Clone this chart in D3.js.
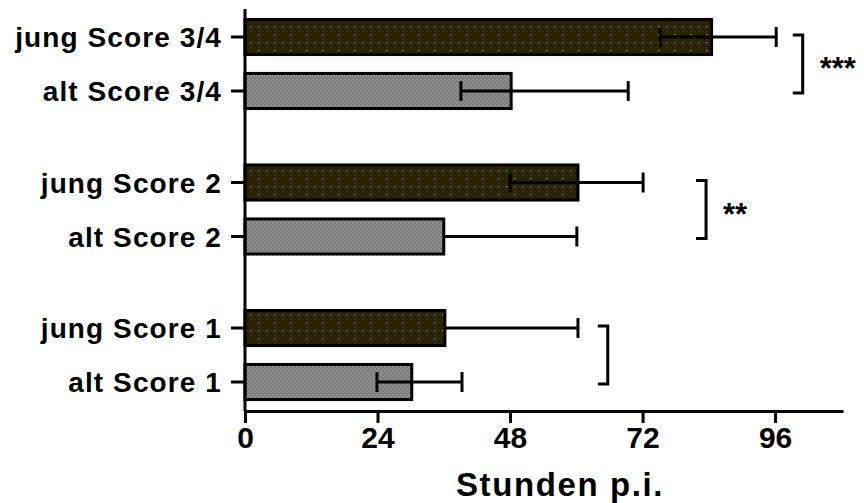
<!DOCTYPE html>
<html>
<head>
<meta charset="utf-8">
<script src="https://cdn.jsdelivr.net/npm/d3@7"></script>
<style>
  body { margin: 0; background: #fff; }
  svg text { font-family: "Liberation Sans", Arial, sans-serif; font-weight: bold; fill: #000; }
</style>
</head>
<body>
<svg width="864" height="503"></svg>
<script>
  // groups from top to bottom, two age classes each
  const groups = ["Score 3/4", "Score 2", "Score 1"];
  const ages = ["jung", "alt"];

  const jungMean = [84.5, 60.3, 36.2];
  const jungLow  = [75.2, 48.0, null];
  const jungHigh = [96.2, 72.1, 60.3];

  const altMean = [48.2, 36.0, 30.2];
  const altLow  = [39.1, null, 23.9];
  const altHigh = [69.4, 60.1, 39.3];

  const bracketAt = [101, 83.5, 65.7];
  const stars = ["***", "**", ""];
  const xTicks = [0, 24, 48, 72, 96];

  const rows = [];
  groups.forEach((g, i) => {
    rows.push({ group: g, age: "jung", mean: jungMean[i], low: jungLow[i], high: jungHigh[i] });
    rows.push({ group: g, age: "alt", mean: altMean[i], low: altLow[i], high: altHigh[i] });
  });

  const svg = d3.select("svg");

  const defs = svg.append("defs");
  const pj = defs.append("pattern").attr("id", "dots")
    .attr("patternUnits", "userSpaceOnUse").attr("width", 16).attr("height", 16);
  pj.append("rect").attr("width", 16).attr("height", 16).attr("fill", "#2a2500");
  [[2, 2], [2, 10], [10, 10]].forEach(p => {
    pj.append("rect").attr("x", p[0]).attr("y", p[1]).attr("width", 1.5).attr("height", 1.5).attr("fill", "#77735e");
  });

  const pa = defs.append("pattern").attr("id", "grey")
    .attr("patternUnits", "userSpaceOnUse").attr("width", 4).attr("height", 4);
  pa.append("rect").attr("width", 4).attr("height", 4).attr("fill", "#8e8e8e");
  [[0, 0], [2, 2]].forEach(p => {
    pa.append("rect").attr("x", p[0]).attr("y", p[1]).attr("width", 2).attr("height", 2).attr("fill", "#7c7c7c");
  });

  const x = d3.scaleLinear().domain([0, 108.3]).range([245, 843]);

  const yGroup = d3.scaleBand().domain(groups).range([10, 409])
    .paddingInner(0.258).paddingOuter(0);
  const yAge = d3.scaleBand().domain(ages).range([0, yGroup.bandwidth()])
    .paddingInner(0.35).paddingOuter(0.175);

  const yTop = d => yGroup(d.group) + yAge(d.age);
  const yMid = d => yTop(d) + yAge.bandwidth() / 2;

  // bars
  svg.append("g").selectAll("rect")
    .data(rows)
    .join("rect")
    .attr("x", x(0))
    .attr("y", yTop)
    .attr("width", d => x(d.mean) - x(0))
    .attr("height", yAge.bandwidth())
    .attr("fill", d => d.age == "jung" ? "url(#dots)" : "url(#grey)")
    .attr("stroke", "#000")
    .attr("stroke-width", 3);

  // error bars
  const err = svg.append("g").attr("stroke", "#000").attr("stroke-width", 3);
  rows.forEach(d => {
    const from = d.low == null ? d.mean : d.low;
    err.append("line")
      .attr("x1", x(from)).attr("x2", x(d.high))
      .attr("y1", yMid(d)).attr("y2", yMid(d));
    [d.low, d.high].filter(v => v != null).forEach(v => {
      err.append("line")
        .attr("x1", x(v)).attr("x2", x(v))
        .attr("y1", yMid(d) - 10).attr("y2", yMid(d) + 10);
    });
  });

  // x axis
  const xAxis = svg.append("g")
    .attr("transform", "translate(0,411)")
    .call(d3.axisBottom(x).tickValues(xTicks).tickSize(12).tickSizeOuter(0).tickPadding(4));
  xAxis.select(".domain").attr("stroke-width", 3);
  xAxis.selectAll(".tick line").attr("stroke-width", 3);
  xAxis.selectAll("text")
    .attr("font-family", "'Liberation Sans Narrow', 'Arial Narrow', 'Liberation Sans', sans-serif")
    .attr("font-weight", "bold")
    .attr("font-size", 30)
    .attr("fill", "#000");

  // y axis
  const yAxis = svg.append("g").attr("stroke", "#000").attr("stroke-width", 3);
  yAxis.append("line").attr("x1", x(0)).attr("x2", x(0)).attr("y1", 9).attr("y2", 411);
  yAxis.selectAll(".yt")
    .data(rows)
    .join("line")
    .attr("x1", x(0) - 14).attr("x2", x(0))
    .attr("y1", yMid).attr("y2", yMid);

  svg.append("g").selectAll("text")
    .data(rows)
    .join("text")
    .attr("x", 222)
    .attr("y", yMid)
    .attr("dy", "0.36em")
    .attr("text-anchor", "end")
    .attr("font-size", 28)
    .attr("letter-spacing", 1.1)
    .text(d => d.age + " " + d.group);

  // significance brackets
  const br = svg.append("g");
  groups.forEach((g, i) => {
    const y1 = yGroup(g) + yAge("jung") + yAge.bandwidth() / 2 - 2;
    const y2 = yGroup(g) + yAge("alt") + yAge.bandwidth() / 2 + 2;
    const bx = x(bracketAt[i]);
    br.append("path")
      .attr("d", `M${bx - 10},${y1}H${bx}V${y2}H${bx - 10}`)
      .attr("fill", "none")
      .attr("stroke", "#000")
      .attr("stroke-width", 3);
    br.append("text")
      .attr("x", bx + 17)
      .attr("y", (y1 + y2) / 2 + 15)
      .attr("font-size", 31)
      .text(stars[i]);
  });

  svg.append("text")
    .attr("x", 560)
    .attr("y", 496)
    .attr("text-anchor", "middle")
    .attr("font-size", 33)
    .attr("letter-spacing", 1.6)
    .text("Stunden p.i.");
</script>
</body>
</html>
